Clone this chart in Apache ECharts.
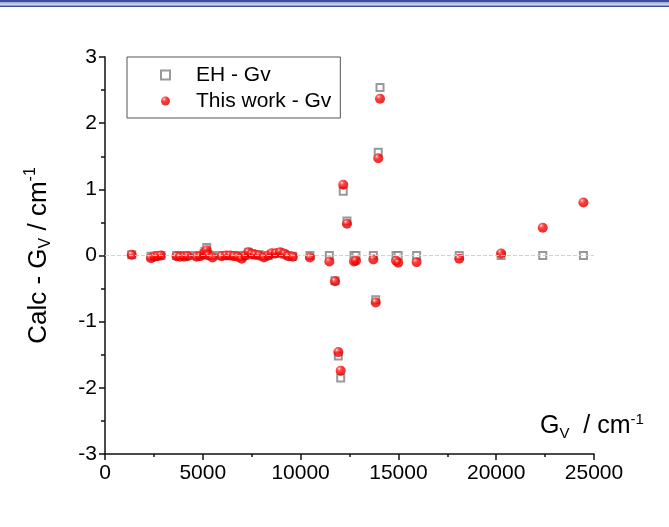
<!DOCTYPE html>
<html>
<head>
<meta charset="utf-8">
<script src="https://cdn.jsdelivr.net/npm/echarts@6/dist/echarts.min.js"></script>
<style>
html,body{margin:0;padding:0;background:#fff;}
#chart{width:669px;height:527px;}
</style>
</head>
<body>
<div id="chart"></div>
<script>
// G_V (cm^-1)
var gv = [1365, 2350, 2520, 2690, 2860, 3660, 3830, 4040, 4220, 4680, 4860, 5060, 5110, 5200, 5280, 5500,
  5960, 6190, 6390, 6590, 6780, 6990, 7160, 7330, 7500, 7670, 7890, 8130, 8350, 8520, 8740, 8950, 9170,
  9370, 9600, 10480, 11470, 11760, 11930, 12050, 12180, 12370, 12730, 12830, 13720, 13840, 13970, 14060,
  14880, 14990, 15930, 18110, 20250, 22380, 24460];
// EH - Gv residuals
var ehResid = [0.01, -0.01, -0.01, 0, 0, 0, 0, 0, 0, 0, 0, 0.03, 0.06, 0.12, 0.01, 0,
  0, 0, 0, 0, 0, -0.02, 0, 0.05, 0.03, 0.01, 0.01, -0.01, 0, 0.02, 0.03, 0.04, 0.02,
  0, -0.01, 0, 0, -0.38, -1.52, -1.85, 0.97, 0.52, 0, 0, 0, -0.67, 1.56, 2.54,
  0, 0, 0, 0, 0, 0, 0];
// This work - Gv residuals
var twResid = [0.01, -0.04, -0.02, -0.01, 0, -0.01, -0.02, -0.02, -0.01, -0.02, -0.01, 0.02, 0.05, 0.08, 0, -0.03,
  -0.01, 0, 0, -0.01, -0.02, -0.05, 0, 0.05, 0.02, 0.01, 0, -0.03, 0, 0.035, 0.035, 0.05, 0.025,
  -0.01, -0.02, -0.03, -0.09, -0.39, -1.46, -1.74, 1.07, 0.48, -0.09, -0.08, -0.06, -0.71, 1.47, 2.37,
  -0.08, -0.11, -0.1, -0.05, 0.03, 0.42, 0.8];
var xTicks = [0, 5000, 10000, 15000, 20000, 25000];
var yTicks = [-3, -2, -1, 0, 1, 2, 3];

var ehData = gv.map(function (x, i) { return [x, ehResid[i]]; });
var twData = gv.map(function (x, i) { return [x, twResid[i]]; });

var chart = echarts.init(document.getElementById('chart'), null, {renderer: 'canvas'});
var FONT = '"Liberation Sans", Arial, sans-serif';
var ballGrad = new echarts.graphic.RadialGradient(0.35, 0.3, 0.7, [
  {offset: 0, color: '#fff4f4'},
  {offset: 0.2, color: '#ff4a4a'},
  {offset: 0.5, color: '#ff0000'},
  {offset: 1, color: '#d80000'}
]);

chart.setOption({
  animation: false,
  backgroundColor: '#fff',
  grid: {left: 105, right: 75, top: 57, bottom: 73, containLabel: false},
  legend: {
    orient: 'vertical',
    left: 127, top: 57,
    padding: [7, 9, 6, 33],
    itemWidth: 9, itemHeight: 9,
    itemGap: 4,
    borderColor: '#555', borderWidth: 1,
    textStyle: {fontFamily: FONT, fontSize: 21, color: '#000', lineHeight: 22, padding: [0, 0, 0, 21]},
    data: [{name: 'EH - Gv', icon: 'emptyRect'}, {name: 'This work - Gv', icon: 'circle'}]
  },
  xAxis: {
    type: 'value', min: 0, max: 25000, interval: 5000,
    axisLine: {onZero: false, lineStyle: {color: '#111', width: 1.5}},
    axisTick: {inside: false, length: 6, lineStyle: {color: '#111', width: 1.5}},
    minorTick: {show: true, splitNumber: 2, length: 3, lineStyle: {color: '#111', width: 1.5}},
    axisLabel: {fontFamily: FONT, fontSize: 21, color: '#000', margin: 9,
      formatter: function (v) { return xTicks.indexOf(v) >= 0 ? String(v) : ''; }},
    splitLine: {show: false}
  },
  yAxis: {
    type: 'value', min: -3, max: 3, interval: 1,
    axisLine: {onZero: false, lineStyle: {color: '#111', width: 1.5}},
    axisTick: {inside: false, length: 6, lineStyle: {color: '#111', width: 1.5}},
    minorTick: {show: true, splitNumber: 2, length: 4, lineStyle: {color: '#111', width: 1.5}},
    axisLabel: {fontFamily: FONT, fontSize: 21, color: '#000', margin: 8,
      formatter: function (v) { return yTicks.indexOf(v) >= 0 ? String(v) : ''; }},
    splitLine: {show: false},
    name: '{a|Calc - G}{s|V}{a| / cm}{p|-1}',
    nameLocation: 'middle', nameRotate: 90, nameGap: 50,
    nameTextStyle: {
      fontFamily: FONT, color: '#000',
      rich: {
        a: {fontFamily: FONT, fontSize: 26, color: '#000'},
        s: {fontFamily: FONT, fontSize: 16, color: '#000', padding: [14, 0, 0, 0]},
        p: {fontFamily: FONT, fontSize: 16, color: '#000', padding: [0, 0, 16, 0]}
      }
    }
  },
  graphic: [
    {type: 'rect', left: 0, top: 0, shape: {width: 669, height: 2.5}, style: {fill: '#3d4c9e'}, silent: true},
    {type: 'rect', left: 0, top: 2.5, shape: {width: 669, height: 1.5}, style: {fill: '#a9bde3'}, silent: true},
    {type: 'rect', left: 0, top: 4, shape: {width: 669, height: 1.5}, style: {fill: '#c7d5ef'}, silent: true},
    {type: 'rect', left: 0, top: 5.5, shape: {width: 669, height: 1.5}, style: {fill: '#3d4c9e'}, silent: true},
    {
      type: 'text', left: 540, top: 412, silent: true,
      style: {
        text: '{a|G}{s|V}{a|  / cm}{p|-1}',
        rich: {
          a: {fontFamily: FONT, fontSize: 25, fill: '#000', color: '#000'},
          s: {fontFamily: FONT, fontSize: 15, fill: '#000', color: '#000', padding: [14, 0, 0, 0]},
          p: {fontFamily: FONT, fontSize: 15, fill: '#000', color: '#000', padding: [0, 0, 14, 0]}
        }
      }
    }
  ],
  series: [
    {
      name: 'EH - Gv', type: 'scatter', symbol: 'emptyRect', symbolSize: 7,
      itemStyle: {color: '#808080', borderWidth: 1},
      data: ehData, z: 2,
      markLine: {
        silent: true, symbol: ['none', 'none'], label: {show: false},
        lineStyle: {color: '#ffb0ff', type: 'dashed', width: 1},
        data: [{yAxis: 0}]
      }
    },
    {
      name: 'This work - Gv', type: 'scatter', symbol: 'circle', symbolSize: 10,
      itemStyle: {color: ballGrad},
      data: twData, z: 3
    }
  ]
});
</script>
</body>
</html>
